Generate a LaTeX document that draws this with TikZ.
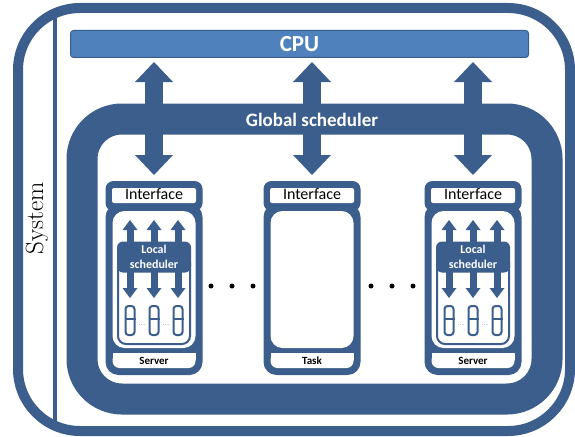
\documentclass[tikz,border=0pt]{standalone}
\usepackage{fontspec}
\setsansfont{Carlito}
\usetikzlibrary{arrows.meta}

\definecolor{schedblue}{RGB}{59,94,140}
\definecolor{cpufill}{RGB}{79,129,189}
\definecolor{cpuedge}{RGB}{56,93,138}

\tikzset{
  bigarrow/.style={draw=schedblue, line width=18pt,
    {Triangle[width=38pt,length=20pt,line width=0pt]}-{Triangle[width=38pt,length=20pt,line width=0pt]}},
  smallarrow/.style={draw=schedblue, line width=7pt,
    {Triangle[width=15pt,length=10pt,line width=0pt]}-{Triangle[width=15pt,length=10pt,line width=0pt]}},
  iflabel/.style={fill=white, rounded corners=2pt, minimum width=84pt, minimum height=15pt,
    inner sep=0pt, text height=11pt, text depth=3pt, font=\sffamily\fontsize{16}{16}\selectfont},
  boxlabel/.style={inner sep=0pt, font=\sffamily\bfseries\fontsize{11}{11}\selectfont},
  lsched/.style={fill=schedblue, rounded corners=6pt, minimum width=74pt, minimum height=31pt,
    inner sep=0pt, text=white, align=center, font=\sffamily\bfseries\fontsize{12}{15}\selectfont},
  cell/.style={draw=schedblue, line width=2pt, rounded corners=3pt, minimum width=9pt,
    minimum height=29pt, inner sep=0pt},
}

\begin{document}
\begin{tikzpicture}[x=1pt,y=-1pt]
\useasboundingbox (0,0) rectangle (575,436);

% system frame
\draw[schedblue, line width=4pt] (55,12) -- (55,428);
\draw[schedblue, line width=10pt, rounded corners=62pt] (18,8) rectangle (570,431);
\node[rotate=90, font=\fontsize{25}{25}\selectfont] (sys) at (37,218) {System};

\node[fill=cpufill, draw=cpuedge, line width=1pt, rounded corners=3pt, minimum width=458pt,
  minimum height=27pt, inner sep=0pt, text=white,
  font=\sffamily\bfseries\fontsize{23}{23}\selectfont] (cpu) at (299.5,44) {CPU};

% global scheduler ring
\draw[schedblue, line width=31pt, rounded corners=40pt] (82,119) rectangle (547,399);

% servers and task
\foreach \cx/\nm/\txt in {154/srvA/Server,312/task/Task,473/srvB/Server}
{
  \fill[schedblue, rounded corners=8pt] (\cx-48.5,181) rectangle (\cx+48.5,211);
  \fill[schedblue, rounded corners=13pt] (\cx-48.5,204) rectangle (\cx+48.5,375);
  \coordinate (\nm) at (\cx,181);
  \node[iflabel] (\nm-if) at (\cx,195.5) {Interface};
  \fill[white, rounded corners=12pt] (\cx-41.5,211) rectangle (\cx+41.5,348);
  \fill[white, rounded corners=7pt] (\cx-41.5,353) rectangle (\cx+41.5,368);
  \fill[white] (\cx-41.5,353) rectangle (\cx+41.5,360);
  \node[boxlabel] (\nm-lbl) at (\cx,361) {\txt};
}

% local schedulers
\foreach \cx/\nm in {154/srvA,473/srvB}
{
  \draw[schedblue, line width=2pt, rounded corners=8pt] (\cx-36,255) rectangle (\cx+36,344);
  \foreach \i/\dx in {1/-24,2/0,3/24}
  {
    \node[cell] (\nm-p\i) at (\cx+\dx,320.5) {};
    \draw[schedblue, line width=1.5pt] ([yshift=1.5pt]\nm-p\i.west) -- ([yshift=1.5pt]\nm-p\i.east);
    \coordinate (\nm-top\i) at (\cx+\dx,220);
    \draw[smallarrow, shorten >=7pt] (\nm-top\i) -- (\nm-p\i.north);
  }
  \node[inner sep=0pt, font=\fontsize{6}{6}\selectfont] (\nm-d1) at (\cx-12,325) {...};
  \node[inner sep=0pt, font=\fontsize{6}{6}\selectfont] (\nm-d2) at (\cx+12,325) {...};
  \node[lsched] (\nm-ls) at (\cx,257) {Local\\scheduler};
}

% cpu links
\foreach \nm in {srvA,task,srvB}
  \draw[bigarrow, shorten <=4pt, shorten >=6pt] (cpu.south -| \nm) -- (\nm);

\node[text=white, font=\sffamily\bfseries\fontsize{19}{19}\selectfont] (gsched) at (312,120) {Global scheduler};

% more of the same
\foreach \x in {211,232,253,371,392,413}
  \fill (\x,286) circle (2.5pt);
\end{tikzpicture}
\end{document}
